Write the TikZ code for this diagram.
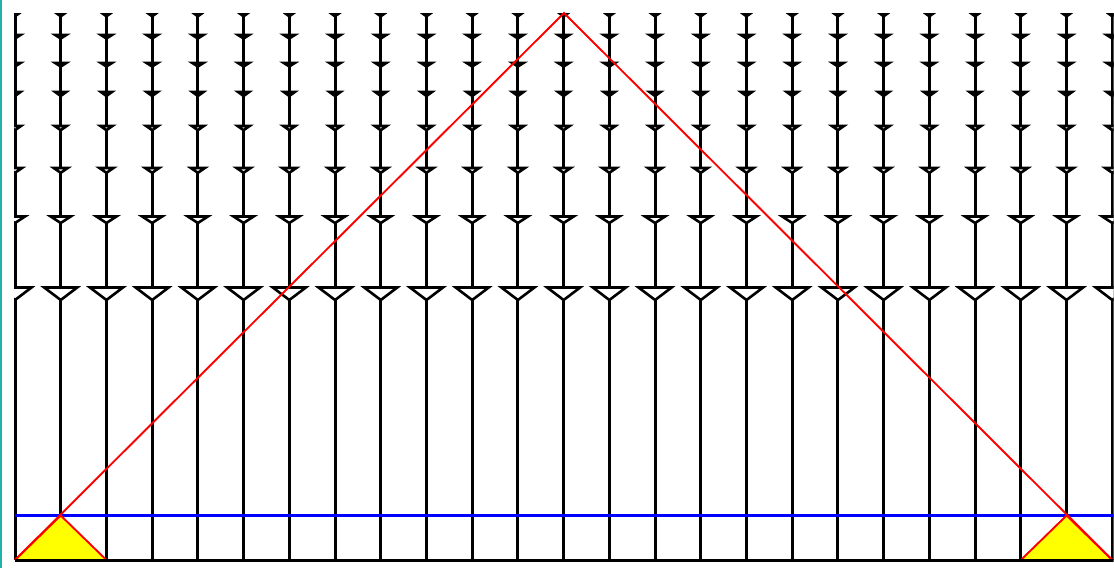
\documentclass[tikz,border=0pt]{standalone}
\usepackage{tikz}
\definecolor{edgeteal}{RGB}{32,178,170}
\definecolor{fillyellow}{RGB}{255,255,0}
\tikzset{
  stem/.style={black,line width=3pt},
  marker/.style={draw=black,line width=2.6pt,line join=miter},
  redline/.style={red,line width=1.9pt},
  blueline/.style={blue,line width=3pt},
  baseline/.style={black,line width=3pt}
}
\begin{document}
\begin{tikzpicture}[x=1pt,y=-1pt]
\useasboundingbox (0,0) rectangle (1114,568);
\fill[white] (0,0) rectangle (1114,568);
\fill[edgeteal] (0,0) rectangle (2,568);
\begin{scope}
\clip (14,0) rectangle (1113.5,568);
% vertical stems with markers
\foreach \k in {0,...,24}{
  \pgfmathsetmacro{\xx}{15+45.72*\k}
  \draw[stem] (\xx,13) -- (\xx,560);
  \foreach \yy/\ww/\hh/\fc in {14.5/5/1.8/black, 35/11/3.5/black, 63/11/3.5/black, 92/11/4/black, 126/12/4.2/white, 168/14/4.8/white, 216.5/20/6.5/white, 287.5/33/12.5/white}{
    \filldraw[marker,fill=\fc] (\xx-\ww/2,\yy) -- (\xx+\ww/2,\yy) -- (\xx,\yy+\hh) -- cycle;
  }
}
\coordinate (b0) at (15,560);
\coordinate (a1) at (60.72,515.5);
\coordinate (b2) at (106.44,560);
\coordinate (top) at (564,13);
\coordinate (b22) at (1020.84,560);
\coordinate (a23) at (1066.56,515.5);
\coordinate (b24) at (1112.28,560);
\coordinate (blueR) at (1114,515.5);
\coordinate (baseR) at (1114,560);
% blue line
\draw[blueline] (b0 |- a1) -- (blueR);
% yellow triangles
\fill[fillyellow] (b0) -- (a1) -- (b2) -- cycle;
\draw[redline,line join=round] (b0) -- (a1) -- (b2);
\fill[fillyellow] (b22) -- (a23) -- (b24) -- cycle;
\draw[redline,line join=round] (b22) -- (a23) -- (b24);
% big red triangle line
\draw[redline,line join=miter] (b0) -- (top) -- (b24);
% base line
\draw[baseline] (b0) -- (baseR);
\end{scope}
\end{tikzpicture}
\end{document}
